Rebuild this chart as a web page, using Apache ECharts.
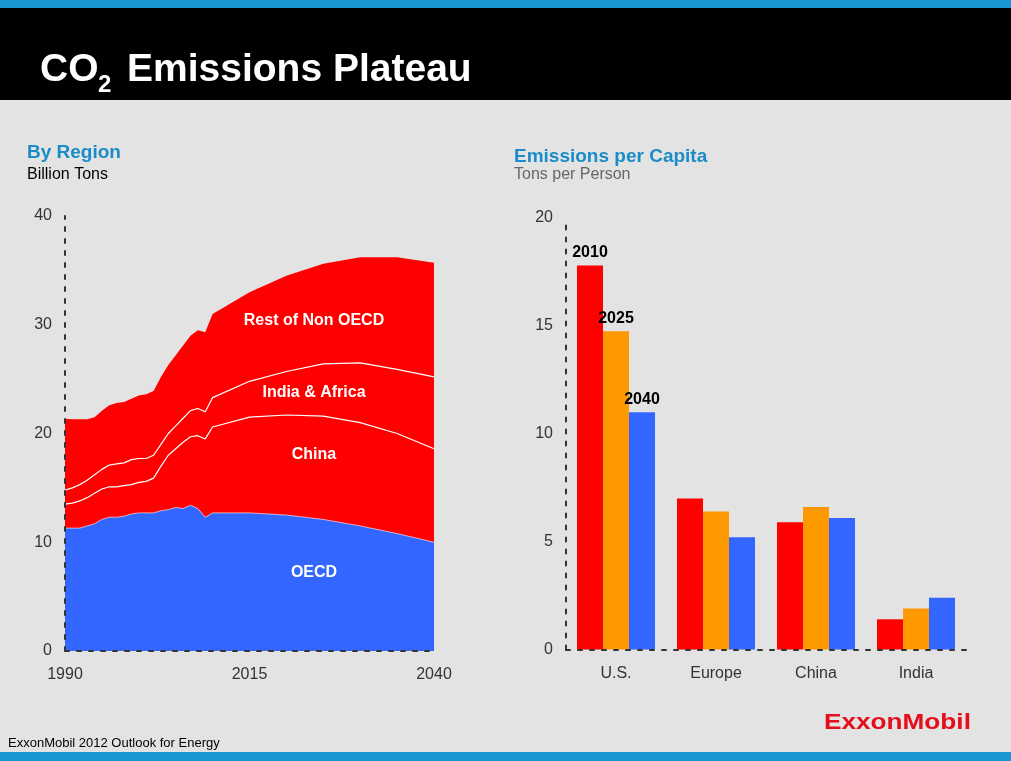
<!DOCTYPE html>
<html>
<head>
<meta charset="utf-8">
<script src="https://cdn.jsdelivr.net/npm/echarts@6/dist/echarts.min.js"></script>
<style>
  html, body { margin: 0; padding: 0; background: #e3e3e3; }
  #main { width: 1011px; height: 761px; }
</style>
</head>
<body>
<div id="main"></div>
<script>
// left chart - emissions by region (billion tons), stacked
var years = [1990, 1991, 1992, 1993, 1994, 1995, 1996, 1997, 1998, 1999, 2000,
    2001, 2002, 2003, 2004, 2005, 2006, 2007, 2008, 2009, 2010,
    2015, 2020, 2025, 2030, 2035, 2040];
var oecd = [11.3, 11.3, 11.3, 11.5, 11.7, 12.1, 12.3, 12.3, 12.4, 12.6, 12.7,
    12.7, 12.7, 12.9, 13.0, 13.2, 13.1, 13.4, 13.1, 12.3, 12.7,
    12.7, 12.5, 12.1, 11.5, 10.8, 10.0];
var china = [2.2, 2.3, 2.5, 2.6, 2.8, 2.8, 2.8, 2.8, 2.8, 2.7, 2.8,
    2.9, 3.2, 4.1, 5.0, 5.4, 6.1, 6.3, 6.7, 7.2, 7.9,
    8.8, 9.2, 9.5, 9.5, 9.2, 8.6];
var indiaAfrica = [1.3, 1.4, 1.5, 1.6, 1.7, 1.8, 2.0, 2.1, 2.1, 2.3, 2.2,
    2.1, 2.1, 2.0, 2.0, 2.1, 2.2, 2.4, 2.5, 2.5, 2.7,
    3.3, 4.0, 4.8, 5.5, 5.9, 6.6];
var restNonOecd = [6.55, 6.3, 6.0, 5.6, 5.3, 5.4, 5.5, 5.6, 5.6, 5.6, 5.8,
    5.9, 5.9, 6.2, 6.3, 6.5, 6.7, 6.9, 7.2, 7.3, 7.7,
    8.2, 8.8, 9.2, 9.7, 10.3, 10.5];

// right chart - emissions per capita (tons per person)
var countries = ['U.S.', 'Europe', 'China', 'India'];
var perCapita2010 = [17.8, 7.0, 5.9, 1.4];
var perCapita2025 = [14.75, 6.4, 6.6, 1.9];
var perCapita2040 = [11.0, 5.2, 6.1, 2.4];

var FONT = '"Liberation Sans", Arial, sans-serif';
var BLUE_BAR = '#1a96d4';
var TITLE_BLUE = '#1a8cc9';

// running totals, drawn back to front (each area fills down to zero)
function cumulative(list) {
    var out = [];
    for (var i = 0; i < years.length; i++) {
        var s = 0;
        for (var j = 0; j < list.length; j++) { s += list[j][i]; }
        out.push([years[i], Math.round(s * 100) / 100]);
    }
    return out;
}

// only the U.S. group carries the year label
function barData(vals) {
    return vals.map(function (v, i) {
        if (i == 0) {
            return { value: v, label: { show: true } };
        }
        return v;
    });
}

var dottedAxis = { show: true, lineStyle: { color: '#333', width: 2, type: [4, 8] } };
var tickText = { color: '#333', fontSize: 16, fontFamily: FONT };

function areaSeries(name, data, color, line) {
    return {
        name: name,
        type: 'line',
        xAxisIndex: 0,
        yAxisIndex: 0,
        data: data,
        showSymbol: false,
        symbol: 'none',
        lineStyle: line,
        areaStyle: { color: color, opacity: 1, origin: 'start' },
        emphasis: { disabled: true }
    };
}

function barSeries(name, vals, color) {
    return {
        name: name,
        type: 'bar',
        xAxisIndex: 1,
        yAxisIndex: 1,
        data: barData(vals),
        barGap: '0%',
        barCategoryGap: '22%',
        itemStyle: { color: color },
        label: {
            show: false,
            position: 'top',
            formatter: '{a}',
            color: '#000',
            fontWeight: 'bold',
            fontSize: 16,
            fontFamily: FONT
        },
        emphasis: { disabled: true }
    };
}

function txt(x, y, text, size, color, weight, align, extra) {
    var el = {
        type: 'text', x: x, y: y, z: 100, silent: true,
        style: {
            text: text,
            fill: color,
            font: (weight || 'normal') + ' ' + size + 'px ' + FONT,
            align: align || 'left',
            verticalAlign: 'middle'
        }
    };
    if (extra) {
        for (var k in extra) { el[k] = extra[k]; }
    }
    return el;
}

var myChart = echarts.init(document.getElementById('main'));

option = {
    backgroundColor: '#e3e3e3',
    animation: false,
    grid: [
        { left: 65, right: 577, top: 216, bottom: 110 },
        { left: 566, right: 45, top: 218, bottom: 111.5 }
    ],
    xAxis: [
        {
            gridIndex: 0,
            type: 'value',
            min: 1990, max: 2040, interval: 25,
            z: 10,
            axisLine: dottedAxis,
            axisTick: { show: false },
            splitLine: { show: false },
            axisLabel: Object.assign({ margin: 16 }, tickText, {
                formatter: function (v) { return String(v); }
            })
        },
        {
            gridIndex: 1,
            type: 'category',
            data: countries,
            z: 10,
            axisLine: dottedAxis,
            axisTick: { show: false },
            axisLabel: Object.assign({ margin: 16 }, tickText)
        }
    ],
    yAxis: [
        {
            gridIndex: 0,
            type: 'value',
            min: 0, max: 40, interval: 10,
            z: 10,
            axisLine: dottedAxis,
            axisTick: { show: false },
            splitLine: { show: false },
            axisLabel: Object.assign({ margin: 13 }, tickText)
        },
        {
            gridIndex: 1,
            type: 'value',
            min: 0, max: 20, interval: 5,
            z: 10,
            axisLine: dottedAxis,
            axisTick: { show: false },
            splitLine: { show: false },
            axisLabel: Object.assign({ margin: 13 }, tickText)
        }
    ],
    series: [
        areaSeries('Rest of Non OECD', cumulative([oecd, china, indiaAfrica, restNonOecd]), '#ff0000', { width: 0 }),
        areaSeries('India & Africa', cumulative([oecd, china, indiaAfrica]), '#ff0000', { color: '#ffffff', width: 1.2 }),
        areaSeries('China', cumulative([oecd, china]), '#ff0000', { color: '#ffffff', width: 1.2 }),
        areaSeries('OECD', cumulative([oecd]), '#3366ff', { color: 'rgba(255,255,255,0.6)', width: 1 }),
        barSeries('2010', perCapita2010, '#ff0000'),
        barSeries('2025', perCapita2025, '#ff9900'),
        barSeries('2040', perCapita2040, '#3366ff')
    ],
    graphic: [
        // header bands
        { type: 'rect', shape: { x: 0, y: 0, width: 1011, height: 8 }, style: { fill: BLUE_BAR }, silent: true },
        { type: 'rect', shape: { x: 0, y: 8, width: 1011, height: 92 }, style: { fill: '#000' }, silent: true },
        txt(40, 70, 'CO', 39, '#fff', 'bold'),
        txt(98, 85, '2', 24, '#fff', 'bold'),
        txt(127, 70, 'Emissions Plateau', 39, '#fff', 'bold'),
        // panel titles
        txt(27, 153, 'By Region', 19, TITLE_BLUE, 'bold'),
        txt(27, 175, 'Billion Tons', 16, '#000'),
        txt(514, 157, 'Emissions per Capita', 19, TITLE_BLUE, 'bold'),
        txt(514, 175, 'Tons per Person', 16, '#666'),
        // area labels
        txt(314, 321, 'Rest of Non OECD', 16, '#fff', 'bold', 'center'),
        txt(314, 393, 'India & Africa', 16, '#fff', 'bold', 'center'),
        txt(314, 455, 'China', 16, '#fff', 'bold', 'center'),
        txt(314, 573, 'OECD', 16, '#fff', 'bold', 'center'),
        // footer
        txt(8, 743, 'ExxonMobil 2012 Outlook for Energy', 13, '#000'),
        txt(824, 723, 'ExxonMobil', 22, '#e50e1c', 'bold', 'left', { scaleX: 1.19 }),
        { type: 'rect', shape: { x: 0, y: 752, width: 1011, height: 9 }, style: { fill: BLUE_BAR }, silent: true }
    ]
};

myChart.setOption(option);
</script>
</body>
</html>
